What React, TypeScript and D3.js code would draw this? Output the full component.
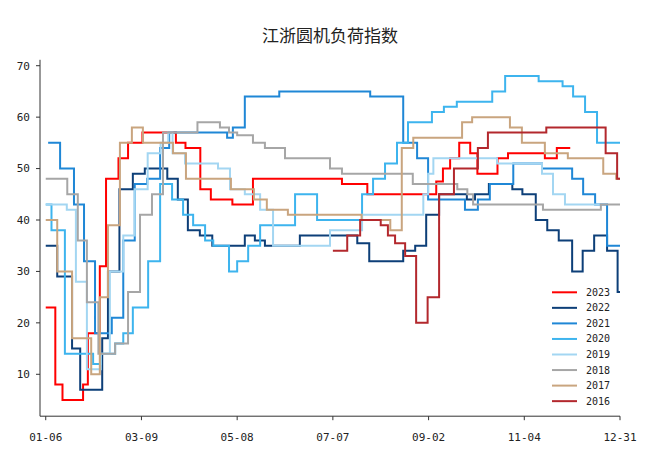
import * as d3 from "d3";

// x is a position on the date axis: 0 = 01-06, 120 = 12-31 (ticks every 20)
const tickLabels = ["01-06", "03-09", "05-08", "07-07", "09-02", "11-04", "12-31"];
const yTicks = [10, 20, 30, 40, 50, 60, 70];

const s2023: [number, number][] = [
  [0, 23], [2, 8], [3.5, 5], [7.8, 8], [8.8, 18], [11.3, 31], [12.6, 48], [15.2, 52], [17.2, 55],
  [20.2, 57], [27.2, 55], [29.2, 54], [32.3, 46], [34.5, 44], [39, 43], [43.3, 48], [61.9, 47],
  [67.2, 45], [81.6, 47.5], [83, 50], [84.5, 52], [86.4, 55], [88.7, 53], [90.2, 49], [94.4, 52],
  [96.6, 53], [104.3, 52], [106.8, 54], [109.6, 54],
];
const s2022: [number, number][] = [
  [0, 35], [2.4, 29], [5.5, 15], [7.2, 7], [11.8, 17], [13, 30], [15.4, 46], [18.2, 49], [20.7, 50],
  [25.4, 48], [27.6, 44], [29.7, 38], [32.2, 37], [34.8, 35], [41.6, 37], [43.7, 36], [45.8, 35],
  [53.1, 37], [65.1, 35.5], [67.6, 32], [74.7, 34], [77.2, 35], [79.5, 41], [82.2, 45], [88, 44],
  [89.7, 45], [92.6, 47], [97.5, 46], [99.6, 45], [102.4, 40], [104.8, 38], [107.2, 36], [110, 30],
  [112.2, 34], [114.6, 37], [117.3, 34], [119.5, 26], [120, 26],
];
const s2021: [number, number][] = [
  [0.5, 55], [3, 50], [5.9, 43], [8, 32], [10.3, 18], [13.8, 21], [16.2, 36], [18.6, 47], [21.2, 48],
  [23.9, 54], [25.8, 57], [37.9, 56], [39.1, 58], [41.6, 64], [48.8, 65], [67.8, 64], [74.7, 55],
  [77.6, 52], [79.9, 44], [87.6, 42], [90.3, 44], [92.8, 47], [97.7, 51], [103.7, 50], [110, 48],
  [112.3, 45], [114.8, 43], [117.3, 35], [120, 35],
];
const s2020: [number, number][] = [
  [0, 43], [1.2, 38], [4, 14], [9.9, 12], [11.5, 14], [14.5, 16], [16.2, 18], [18.2, 23], [21.4, 32],
  [23.9, 47], [26.4, 44], [28.7, 41], [30.8, 39], [33.3, 36], [35, 35], [38.3, 30], [40, 32],
  [42.3, 35], [44.8, 39], [52.1, 45], [56.7, 40], [66.1, 45], [68.4, 48], [70.9, 51], [73.4, 55],
  [75.7, 59], [80.7, 61], [83.2, 62], [85.9, 63], [93.3, 65], [96, 68], [103, 67], [108, 66],
  [110.2, 64], [112.7, 61], [115.2, 55], [120, 55],
];
const s2019: [number, number][] = [
  [0, 43], [4.4, 42], [6.3, 28], [8.6, 11], [11.5, 14], [13.4, 30], [16.2, 37], [18.6, 46], [21.3, 53],
  [24, 55], [25.6, 57], [26.5, 53], [29.1, 51], [36, 50], [38.5, 46], [41.6, 45], [44.8, 42],
  [47.5, 35], [59.4, 38], [66.1, 41], [78.9, 45], [79.9, 49], [81, 52], [94.3, 51], [103.7, 49],
  [106, 45], [108.5, 43], [115.8, 43],
];
const s2018: [number, number][] = [
  [0, 48], [4.5, 45], [6.7, 36], [8.6, 24], [11, 14], [14.5, 16], [17.2, 26], [19.7, 41], [22.2, 45],
  [24.5, 57], [31.7, 59], [36.4, 58], [38.3, 57], [40, 56.5], [43.3, 55], [45.8, 54], [50, 52],
  [59.4, 50], [61.9, 49], [76.7, 47], [86, 46], [88.1, 45], [89.3, 43], [103.9, 42], [116, 43],
  [120, 43],
];
const s2017: [number, number][] = [
  [0, 40], [2.4, 30], [5.5, 17], [9.5, 10], [11.3, 25], [13, 39], [15.5, 55], [18, 58], [20.3, 55],
  [26.6, 53], [29.3, 48], [38.7, 46], [43.5, 44], [46.2, 42], [50.6, 41], [66, 40], [72, 38],
  [74.4, 54], [76.8, 56], [87, 59], [89.1, 60], [97, 58], [99.5, 55], [104.3, 53], [109.1, 52],
  [116.5, 49], [119.2, 48], [120, 48],
];
const s2016: [number, number][] = [
  [60, 34], [63, 37], [65.7, 40], [70, 39], [71.5, 37], [73, 35.5], [75.1, 33], [77.4, 20],
  [79.8, 25], [82.2, 45], [85.3, 50], [90.3, 54], [92.4, 57], [104.6, 58], [117, 53], [119.4, 48],
  [120, 48],
];

const years = ["2023", "2022", "2021", "2020", "2019", "2018", "2017", "2016"];
const seriesData = [s2023, s2022, s2021, s2020, s2019, s2018, s2017, s2016];
const colors = ["#ff0000", "#0d3f78", "#1f87d6", "#3db4ee", "#a3d6f2", "#a6a6a6", "#c9a57f", "#b3282d"];

export default function App() {
  const width = 656;
  const height = 457;
  const left = 40, right = 620, top = 59.8, bottom = 416.2;

  const x = d3.scaleLinear().domain([-1.2, 120]).range([left, right]);
  const y = d3.scaleLinear().domain([1.85, 71.15]).range([bottom, top]);

  const line = d3.line<[number, number]>()
    .x(d => x(d[0]))
    .y(d => y(d[1]))
    .curve(d3.curveStepAfter);

  const tickFont = "'DejaVu Sans Mono', monospace";

  return (
    <svg width={width} height={height} style={{ position: "absolute", left: 0, top: 0, background: "#fff" }}>
      <text x={330} y={42} textAnchor="middle" fontSize={17} fill="#222"
        fontFamily="'Noto Sans CJK SC', sans-serif">江浙圆机负荷指数</text>

      {/* series */}
      <g fill="none" strokeWidth={2} strokeLinejoin="miter">
        {seriesData.map((s, i) => (
          <path key={years[i]} d={line(s) ?? ""} stroke={colors[i]} />
        ))}
      </g>

      {/* y axis */}
      <line x1={left} x2={left} y1={top} y2={bottom} stroke="#333" strokeWidth={1} />
      {yTicks.map(t => (
        <g key={t} transform={`translate(0,${y(t)})`}>
          <line x1={left - 4} x2={left} stroke="#333" />
          <text x={30} dy="0.35em" textAnchor="end" fontSize={11} fill="#222" fontFamily={tickFont}>{t}</text>
        </g>
      ))}

      {/* x axis */}
      <line x1={left} x2={right} y1={bottom} y2={bottom} stroke="#333" strokeWidth={1} />
      {tickLabels.map((lab, i) => (
        <g key={lab} transform={`translate(${x(i * 20)},0)`}>
          <line y1={bottom} y2={bottom + 4} stroke="#333" />
          <text y={441} textAnchor="middle" fontSize={11} fill="#222" fontFamily={tickFont}>{lab}</text>
        </g>
      ))}

      {/* legend */}
      {years.map((yr, i) => (
        <g key={yr} transform={`translate(0,${292.3 + i * 15.55})`}>
          <line x1={552} x2={577} stroke={colors[i]} strokeWidth={2} />
          <text x={586} dy="0.35em" fontSize={10} fill="#222" fontFamily={tickFont}>{yr}</text>
        </g>
      ))}
    </svg>
  );
}
